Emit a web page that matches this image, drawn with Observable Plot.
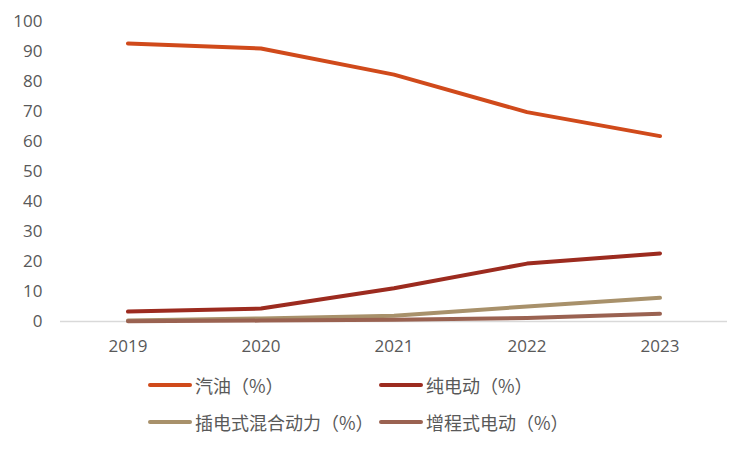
<!DOCTYPE html>
<html>
<head>
<meta charset="utf-8">
<script src="https://cdn.jsdelivr.net/npm/d3@7"></script>
<script src="https://cdn.jsdelivr.net/npm/@observablehq/plot@0.6"></script>
<style>
  body { margin: 0; background: #fff; font-family: "Open Sans", "Noto Sans CJK SC", sans-serif; }
  #wrap { position: relative; width: 750px; height: 450px; }
  .leg { position: absolute; display: flex; align-items: center; font-size: 18px; color: #595959; font-family: "Noto Sans CJK SC", sans-serif; }
  .sw { width: 44px; height: 4px; border-radius: 2px; margin-right: 3px; }
</style>
</head>
<body>
<div id="wrap"></div>
<script>
const years = ["2019", "2020", "2021", "2022", "2023"];
const seriesNames = ["汽油（%）", "纯电动（%）", "插电式混合动力（%）", "增程式电动（%）"];
const gasoline = [92.7, 91.0, 82.3, 69.8, 61.8];
const bev = [3.3, 4.3, 11.1, 19.3, 22.7];
const phev = [0.3, 1.0, 1.9, 5.0, 7.9];
const erev = [0.1, 0.3, 0.6, 1.2, 2.6];
const yTicks = [0, 10, 20, 30, 40, 50, 60, 70, 80, 90, 100];
const colors = ["#D04A1B", "#9C2B1F", "#A8916B", "#9A6251"];

const allValues = [gasoline, bev, phev, erev];
const data = [];
allValues.forEach((vals, si) => {
  vals.forEach((v, i) => data.push({series: seriesNames[si], year: years[i], value: v}));
});

const chart = Plot.plot({
  width: 750,
  height: 360,
  marginTop: 21,
  marginBottom: 39,
  marginLeft: 60,
  marginRight: 23,
  style: {fontFamily: "'Open Sans', sans-serif", fontSize: "17px", color: "#595959", background: "#fff"},
  x: {type: "band", domain: years, padding: 0, label: null},
  y: {domain: [0, 100], ticks: yTicks, label: null},
  color: {domain: seriesNames, range: colors},
  marks: [
    Plot.axisY({ticks: yTicks, tickSize: 0, tickPadding: 18, label: null, fontSize: 17, fill: "#595959"}),
    Plot.axisX({tickSize: 0, tickPadding: 18, label: null, fontSize: 17, fill: "#595959"}),
    Plot.ruleY([0], {stroke: "#d9d9d9", strokeWidth: 1.5}),
    Plot.line(data, {x: "year", y: "value", z: "series", stroke: "series", strokeWidth: 4, strokeLinecap: "round", strokeLinejoin: "round"})
  ]
});
const wrap = document.getElementById("wrap");
wrap.appendChild(chart);

const legPos = [[148, 385], [379, 385], [148, 422], [379, 422]];
seriesNames.forEach((name, i) => {
  const d = document.createElement("div");
  d.className = "leg";
  d.style.left = legPos[i][0] + "px";
  d.style.top = (legPos[i][1] - 13) + "px";
  d.style.height = "26px";
  d.innerHTML = `<span class="sw" style="background:${colors[i]}"></span><span>${name}</span>`;
  wrap.appendChild(d);
});
</script>
</body>
</html>
